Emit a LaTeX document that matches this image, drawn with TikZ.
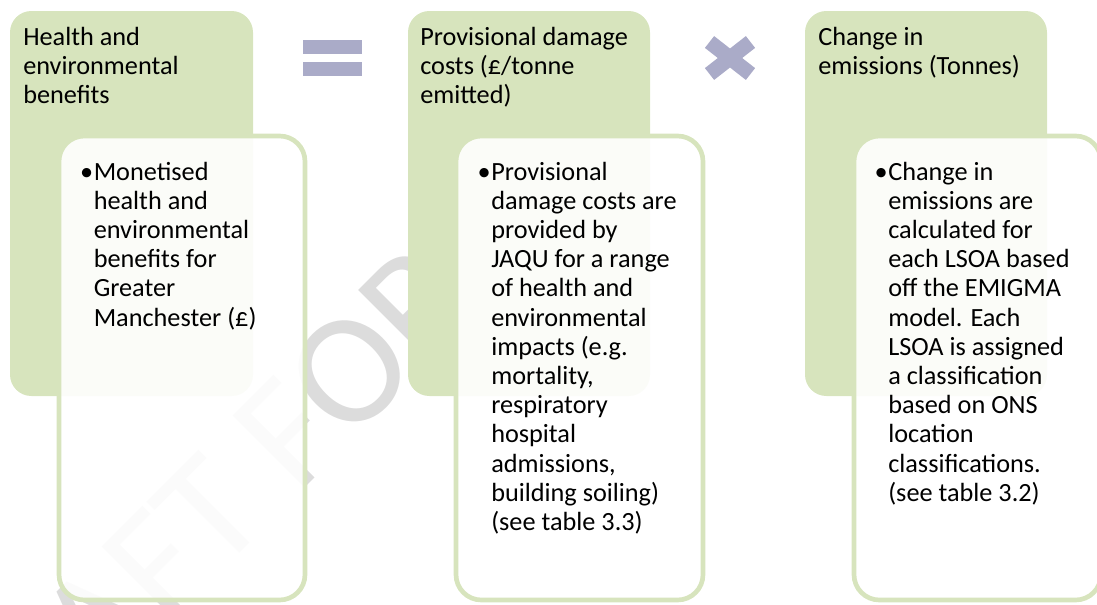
\documentclass[tikz,border=0pt]{standalone}
\usepackage{fontspec}
\setmainfont{Carlito}
\usepackage{tikz}

\begin{document}
\begin{tikzpicture}[x=0.75pt,y=0.75pt,yscale=-1,xscale=1,
  panel/.style={fill={rgb, 255:red, 215; green, 228; blue, 189 }, rounded corners=16pt},
  card/.style={draw={rgb, 255:red, 215; green, 228; blue, 189 }, line width=3.5pt, fill=white, fill opacity=0.9, rounded corners=19pt},
  opsign/.style={fill={rgb, 255:red, 170; green, 171; blue, 200 }},
  headtxt/.style={anchor=base west, inner sep=0pt, align=left, font=\fontsize{19.7}{21.9}\selectfont}]
\useasboundingbox (0,0) rectangle (1097,604);

% Watermark
\draw (-29,822) node (wm) [anchor=base west, inner sep=0pt, rotate=45, text={rgb, 255:red, 220; green, 220; blue, 220 }, font=\fontsize{119}{130}\selectfont] {DRAFT FOR};

%Rounded Rect (headings)
\fill [panel] (10,11) rectangle (253,396);
\fill [panel] (408,11) rectangle (650,396);
\fill [panel] (805,11) rectangle (1047,396);

%Rounded Rect (details)
\draw [card] (59,136) rectangle (305,600);
\draw [card] (456,136) rectangle (703,600);
\draw [card] (854,136) rectangle (1101,600);

%Equals
\fill [opsign] (303,40) rectangle (362,54);
\fill [opsign] (303,62) rectangle (362,76);
%Times
\fill [opsign, rotate around={38:(730,58)}] (704,50.5) rectangle (756,65.5);
\fill [opsign, rotate around={-38:(730,58)}] (704,50.5) rectangle (756,65.5);

% Text Node (anchored at the baseline of the last line)
\draw (23,103.4) node (head1) [headtxt] {Health and\\environmental\\benefits};
% Text Node
\draw (420,103.4) node (head2) [headtxt] {Provisional damage\\costs (£/tonne\\emitted)};
% Text Node
\draw (818,74.2) node (head3) [headtxt] {Change in\\emissions (Tonnes)};

% Text Node
\draw (93.5,326) node (body1) [headtxt] {\llap{•\hspace{0.5pt}}Monetised\\health and\\environmental\\benefits for\\Greater\\Manchester (£)};
% Text Node
\draw (491,530.4) node (body2) [headtxt] {\llap{•\hspace{0.5pt}}Provisional\\damage costs are\\provided by\\JAQU for a range\\of health and\\environmental\\impacts (e.g.\\mortality,\\respiratory\\hospital\\admissions,\\building soiling)\\(see table 3.3)};
% Text Node
\draw (888,501.2) node (body3) [headtxt] {\llap{•\hspace{0.5pt}}Change in\\emissions are\\calculated for\\each LSOA based\\off the EMIGMA\\model. Each\\LSOA is assigned\\a classification\\based on ONS\\location\\classifications.\\(see table 3.2)};

\end{tikzpicture}
\end{document}
